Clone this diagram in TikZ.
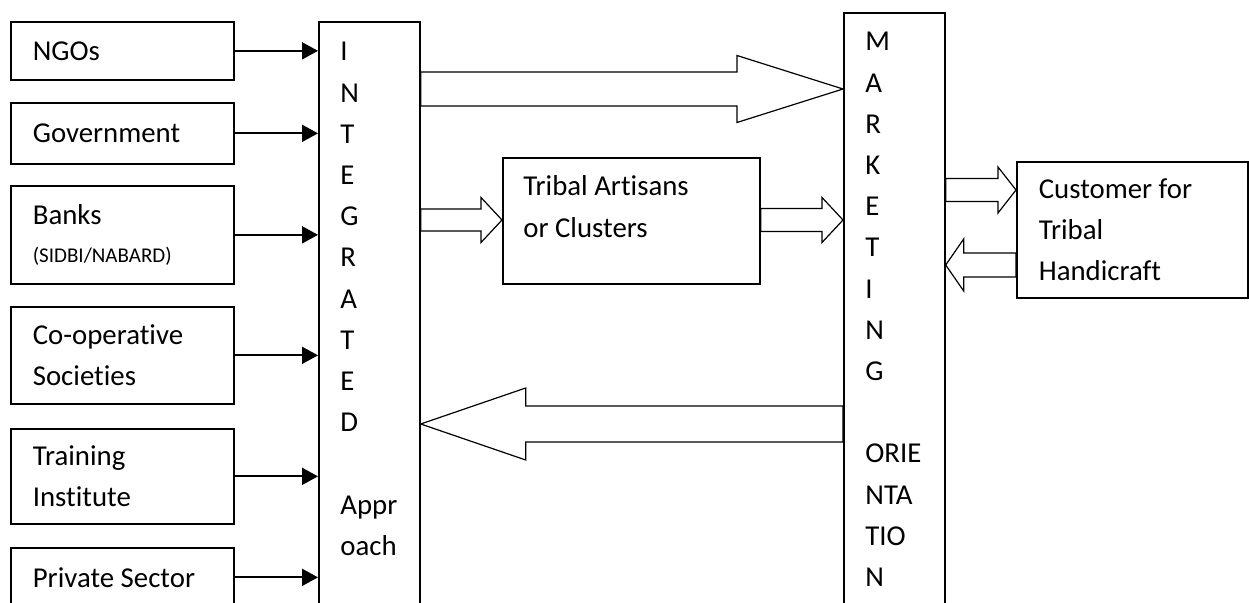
\documentclass[tikz,border=0pt]{standalone}
\usepackage{fontspec}
\setmainfont{Carlito}[Ligatures=NoCommon]
\usetikzlibrary{arrows.meta, calc}

% hollow block arrow: start, tip, shaft half width, head half width, head length
\newcommand{\fatarrow}[5]{%
	\draw[fat] let \p1=(#1), \p2=(#2) in
	(\x1,{\y1+#3}) -- ({\x2-(#5)},{\y1+#3}) -- ({\x2-(#5)},{\y1+#4})
	-- (\x2,\y2) -- ({\x2-(#5)},{\y1-#4}) -- ({\x2-(#5)},{\y1-#3})
	-- (\x1,{\y1-#3}) -- cycle;
}

\begin{document}
\begin{tikzpicture}[
	x=0.5pt, y=-0.5pt,
	font=\fontsize{14.4}{20.6}\selectfont,
	src/.style={draw, line width=0.85pt, anchor=north west, text width=89.5pt, inner xsep=11pt, align=flush left},
	colbox/.style={draw, line width=0.85pt, anchor=north west, minimum width=50.5pt, minimum height=320pt},
	coltext/.style={anchor=base west, inner sep=0pt, text width=30pt, align=flush left},
	feed/.style={line width=1pt, -{Triangle[length=8pt, width=8.5pt]}},
	fat/.style={line width=0.6pt, line join=miter}
	]
	\useasboundingbox (0,0) rectangle (1249,603);
	\clip (0,0) rectangle (1249,603);
	
	% sources
	\node[src, minimum height=29pt] (ngo) at (10,21) {NGOs};
	\node[src, minimum height=30.5pt] (govt) at (10,102) {Government};
	\node[src, minimum height=49pt] (banks) at (10,185)
	{Banks\\[-1.5pt]{\fontsize{10.5}{12.6}\selectfont (SIDBI/NABARD)}};
	\node[src, minimum height=48.5pt] (coop) at (10,306) {Co-operative\\Societies};
	\node[src, minimum height=47.5pt] (train) at (10,428) {Training\\Institute};
	\node[src, minimum height=29.5pt] (priv) at (10,547) {Private Sector};
	
	% the two columns
	\node[colbox] (integ) at (318,21) {};
	\node[coltext] (integtxt) at (340,61)
	{I\\N\\T\\E\\G\\R\\A\\T\\E\\D\\[20.6pt]Appr\\oach};
	\node[colbox] (mkt) at (843,12) {};
	\node[coltext] (mkttxt) at (865,51)
	{M\\A\\R\\K\\E\\T\\I\\N\\G\\[20.6pt]ORIE\\NTA\\TIO\\N};
	
	\node[draw, line width=0.85pt, anchor=north west, minimum width=128.5pt, minimum height=63pt] (tribal) at (502,157) {};
	\node[anchor=base west, inner sep=0pt, text width=100pt, align=flush left] (tribaltxt) at (523,196)
	{Tribal Artisans\\or Clusters};
	\node[src, text width=93.5pt, minimum height=68pt] (cust) at (1016,161)
	{Customer for\\Tribal\\Handicraft};
	
	\draw[feed] (ngo.east) -- (ngo.east -| integ.west);
	\draw[feed] (govt.east) -- (govt.east -| integ.west);
	\draw[feed] (banks.east) -- (banks.east -| integ.west);
	\draw[feed] (coop.east) -- (coop.east -| integ.west);
	\draw[feed] (train.east) -- (train.east -| integ.west);
	\draw[feed] (priv.east) -- (priv.east -| integ.west);
	
	\coordinate (toprow) at (0,89);
	\coordinate (midrow) at (0,220);
	\coordinate (outrow) at (0,190);
	\coordinate (inrow) at (0,265);
	\coordinate (backrow) at (0,424);
	
	\fatarrow{integ.east |- toprow}{mkt.west |- toprow}{8.5pt}{16.75pt}{53pt}
	\fatarrow{integ.east |- midrow}{tribal.west |- midrow}{5.5pt}{11.25pt}{10.5pt}
	\fatarrow{tribal.east |- midrow}{mkt.west |- midrow}{5.75pt}{11.25pt}{10.5pt}
	\fatarrow{mkt.east |- outrow}{cust.west |- outrow}{5.75pt}{11.5pt}{9pt}
	\fatarrow{cust.west |- inrow}{mkt.east |- inrow}{6pt}{13pt}{-9pt}
	\fatarrow{mkt.west |- backrow}{integ.east |- backrow}{9pt}{18pt}{-52.5pt}
\end{tikzpicture}
\end{document}
